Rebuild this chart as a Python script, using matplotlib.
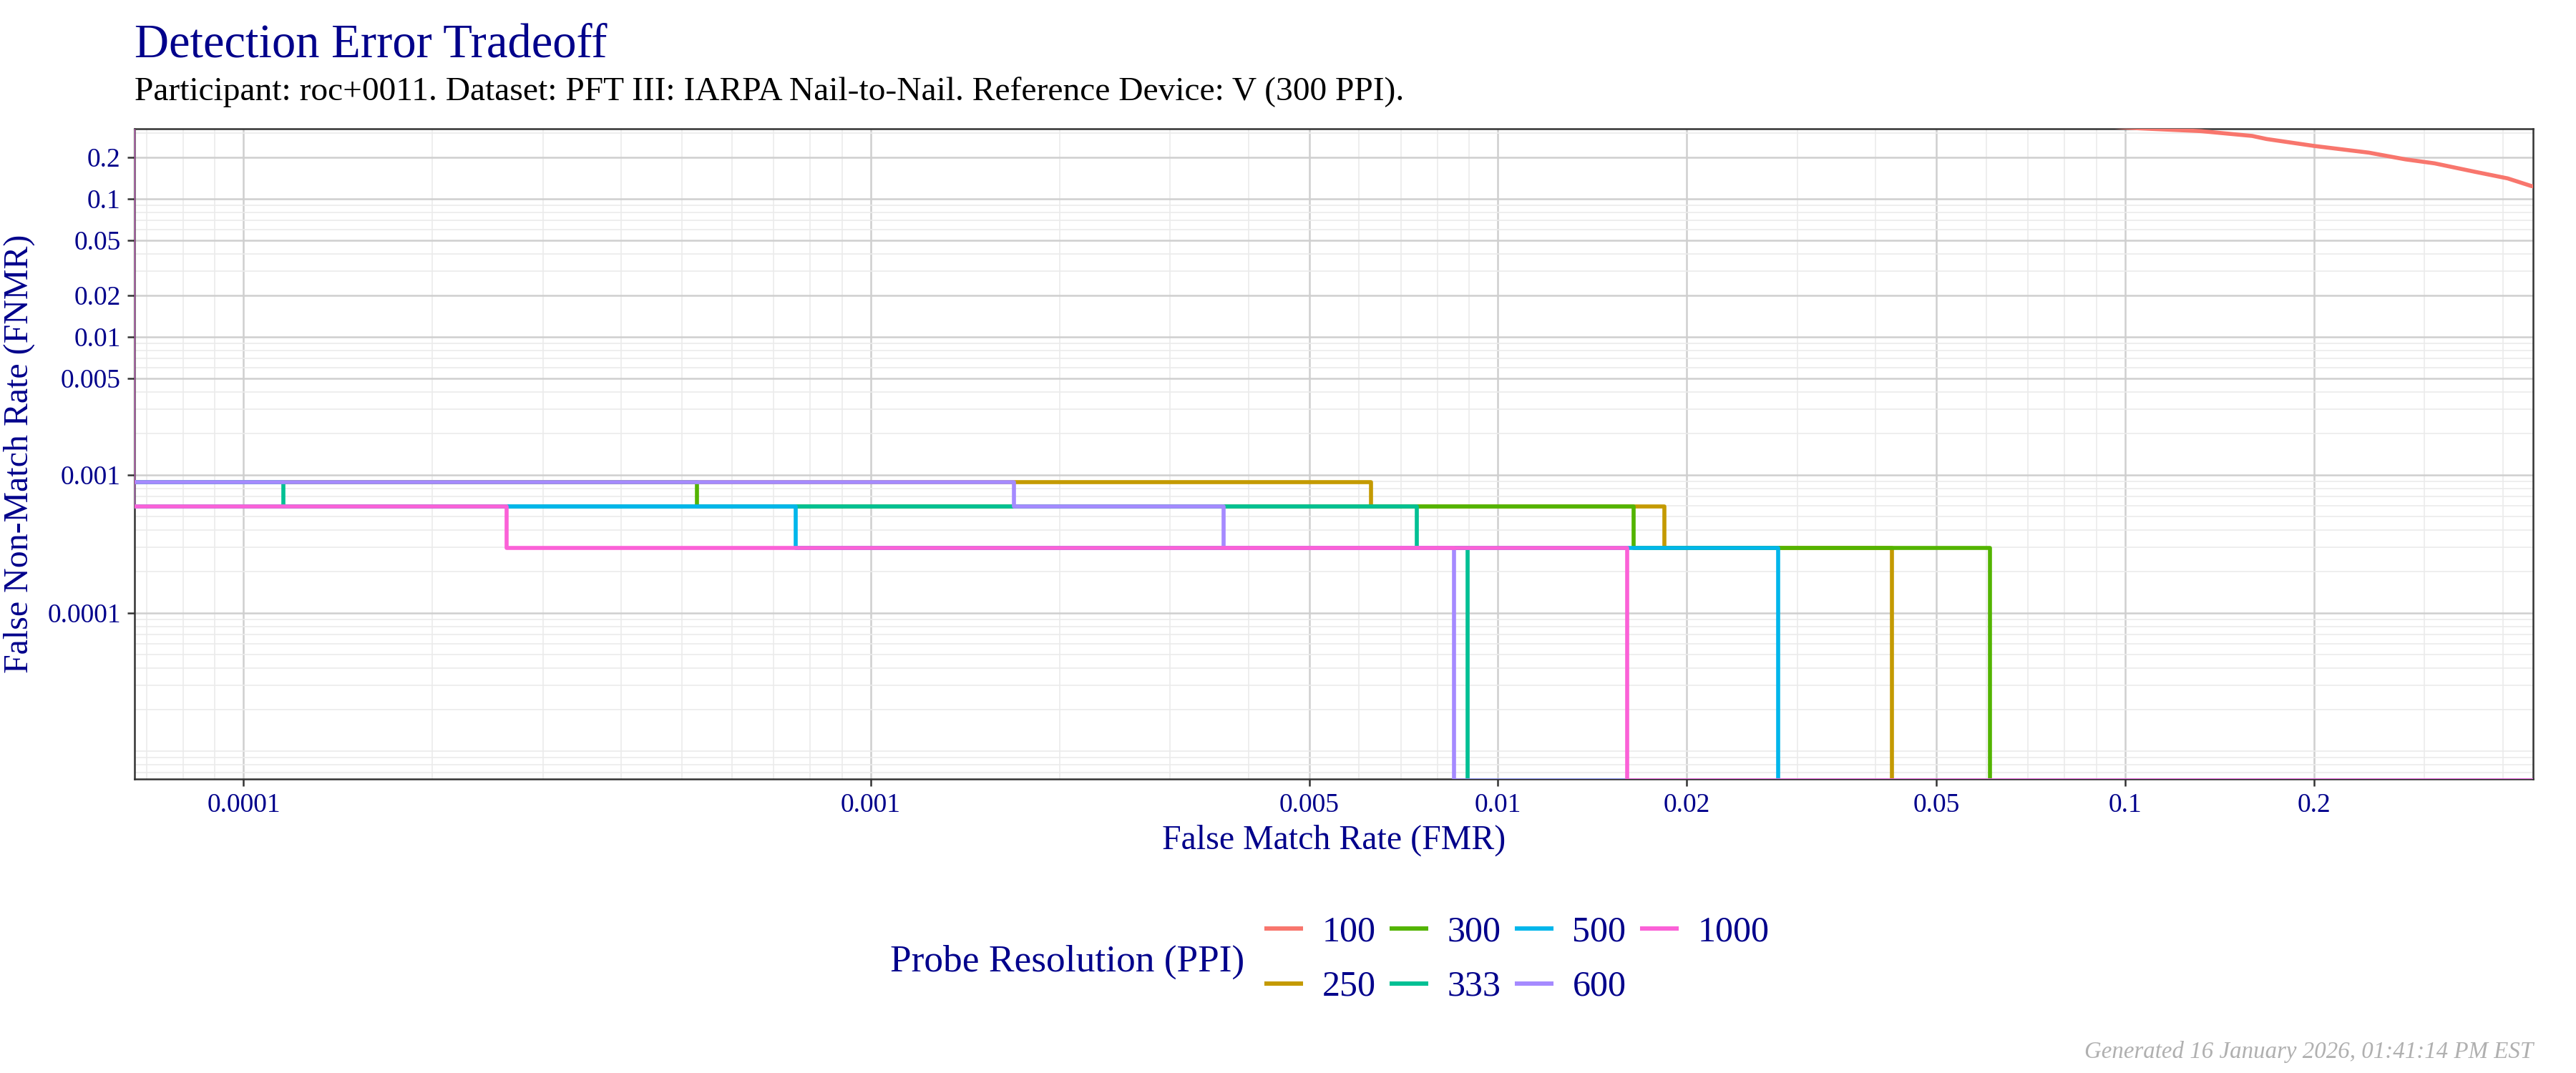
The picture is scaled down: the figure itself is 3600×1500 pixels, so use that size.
import numpy as np
import matplotlib.pyplot as plt
from matplotlib.ticker import FixedLocator, FixedFormatter, LogLocator, NullFormatter

plt.rcParams['font.family'] = ['Liberation Serif', 'DejaVu Serif']

NAVY = "#00008B"

# axis limits
XMIN, XMAX = 6.7e-5, 0.447
YMIN, YMAX = 6.3e-6, 0.322

ppi_labels = ["100", "250", "300", "333", "500", "600", "1000"]
colors = ["#F8766D", "#C49A00", "#53B400", "#00C094", "#00B6EB", "#A58AFF", "#FB61D7"]

# 100 PPI: curve at the top right
fmr_100 = [0.085, 0.1052, 0.1321, 0.1594, 0.168, 0.2002, 0.2445, 0.2797, 0.3113, 0.3607, 0.4071, 0.444, 0.47]
fnmr_100 = [0.345, 0.3245, 0.3095, 0.2857, 0.2715, 0.2417, 0.2163, 0.1934, 0.1809, 0.1573, 0.1408, 0.124, 0.119]

# step curves (steps-post): FNMR level holds until the next FMR value
fmr_250 = [6.66e-5, 6.66e-5, 6.27e-3, 1.84e-2, 4.25e-2, 0.47]
fnmr_250 = [0.5, 8.88e-4, 5.92e-4, 2.96e-4, 6.15e-6, 6.15e-6]

fmr_300 = [6.66e-5, 6.66e-5, 5.28e-4, 1.645e-2, 6.08e-2, 0.47]
fnmr_300 = [0.5, 8.88e-4, 5.92e-4, 2.96e-4, 6.15e-6, 6.15e-6]

fmr_333 = [6.66e-5, 6.66e-5, 1.156e-4, 7.43e-3, 8.955e-3, 0.47]
fnmr_333 = [0.5, 8.88e-4, 5.92e-4, 2.96e-4, 6.15e-6, 6.15e-6]

fmr_500 = [6.66e-5, 6.66e-5, 7.59e-4, 2.80e-2, 0.47]
fnmr_500 = [0.5, 5.92e-4, 2.96e-4, 6.15e-6, 6.15e-6]

fmr_600 = [6.66e-5, 6.66e-5, 1.693e-3, 3.65e-3, 8.51e-3, 0.47]
fnmr_600 = [0.5, 8.88e-4, 5.92e-4, 2.96e-4, 6.15e-6, 6.15e-6]

fmr_1000 = [6.66e-5, 6.66e-5, 2.625e-4, 1.608e-2, 0.47]
fnmr_1000 = [0.5, 5.92e-4, 2.96e-4, 6.15e-6, 6.15e-6]

x_ticks = [0.0001, 0.001, 0.005, 0.01, 0.02, 0.05, 0.1, 0.2]
x_tick_labels = ["0.0001", "0.001", "0.005", "0.01", "0.02", "0.05", "0.1", "0.2"]
y_ticks = [0.0001, 0.001, 0.005, 0.01, 0.02, 0.05, 0.1, 0.2]
y_tick_labels = ["0.0001", "0.001", "0.005", "0.01", "0.02", "0.05", "0.1", "0.2"]

fig = plt.figure(figsize=(12, 5), dpi=300)
ax = fig.add_axes([188 / 3600, 411 / 1500, 3352 / 3600, 909 / 1500])

ax.plot(fmr_100, fnmr_100, color=colors[0], lw=1.35, label=ppi_labels[0], zorder=3)
steps = [(fmr_250, fnmr_250), (fmr_300, fnmr_300), (fmr_333, fnmr_333),
         (fmr_500, fnmr_500), (fmr_600, fnmr_600), (fmr_1000, fnmr_1000)]
for i, (fx, fy) in enumerate(steps):
    ax.plot(fx, fy, drawstyle="steps-post", color=colors[i + 1], lw=1.35,
            label=ppi_labels[i + 1], zorder=4 + i)

ax.set_xscale("log")
ax.set_yscale("log")
ax.set_xlim(XMIN, XMAX)
ax.set_ylim(YMIN, YMAX)

ax.xaxis.set_major_locator(FixedLocator(x_ticks))
ax.xaxis.set_major_formatter(FixedFormatter(x_tick_labels))
ax.yaxis.set_major_locator(FixedLocator(y_ticks))
ax.yaxis.set_major_formatter(FixedFormatter(y_tick_labels))
for axis in (ax.xaxis, ax.yaxis):
    axis.set_minor_locator(LogLocator(base=10, subs=np.arange(1, 10), numticks=50))
    axis.set_minor_formatter(NullFormatter())

ax.grid(which="minor", color="#EBEBEB", lw=0.4, zorder=0)
ax.grid(which="major", color="#CFCFCF", lw=0.6, zorder=1)
ax.set_axisbelow(True)
ax.tick_params(which="major", labelsize=9, labelcolor=NAVY, color="#333333",
               length=2.4, width=0.6, pad=2.2)
ax.tick_params(which="minor", length=0)
for s in ax.spines.values():
    s.set_color("#333333")
    s.set_linewidth(0.6)

fig.text(188 / 3600, 1 - 79 / 1500, "Detection Error Tradeoff", fontsize=16,
         color=NAVY, va="baseline", ha="left")
fig.text(188 / 3600, 1 - 140 / 1500,
         "Participant: roc+0011. Dataset: PFT III: IARPA Nail-to-Nail. Reference Device: V (300 PPI).",
         fontsize=11.4, color="black", va="baseline", ha="left")
fig.text(1864 / 3600, 1 - 1187 / 1500, "False Match Rate (FMR)", fontsize=11.5,
         color=NAVY, va="baseline", ha="center")
fig.text(27 / 3600, 1 - 634.5 / 1500, "False Non-Match Rate (FNMR)", fontsize=11.5,
         color=NAVY, va="center", ha="center", rotation=90)

# legend: title on the left, keys in 2 rows x 4 columns
fig.text(1244 / 3600, 1 - 1358 / 1500, "Probe Resolution (PPI)", fontsize=12.8,
         color=NAVY, va="baseline", ha="left")
handles, labels = ax.get_legend_handles_labels()
leg = fig.legend(handles, labels, ncol=4, loc="upper left",
                 bbox_to_anchor=(1770 / 3600, 1 - 1280 / 1500), frameon=False,
                 fontsize=12, handlelength=0.95, handletextpad=0.6,
                 columnspacing=0.45, labelspacing=0.6, borderpad=0, borderaxespad=0)
for t in leg.get_texts():
    t.set_color(NAVY)
for h in leg.get_lines():
    h.set_linewidth(1.45)

fig.text(3540 / 3600, 1 - 1479 / 1500, "Generated 16 January 2026, 01:41:14 PM EST",
         fontsize=7.9, color="#B0B0B0", style="italic", va="baseline", ha="right")

fig.savefig("out.png", dpi=300)
